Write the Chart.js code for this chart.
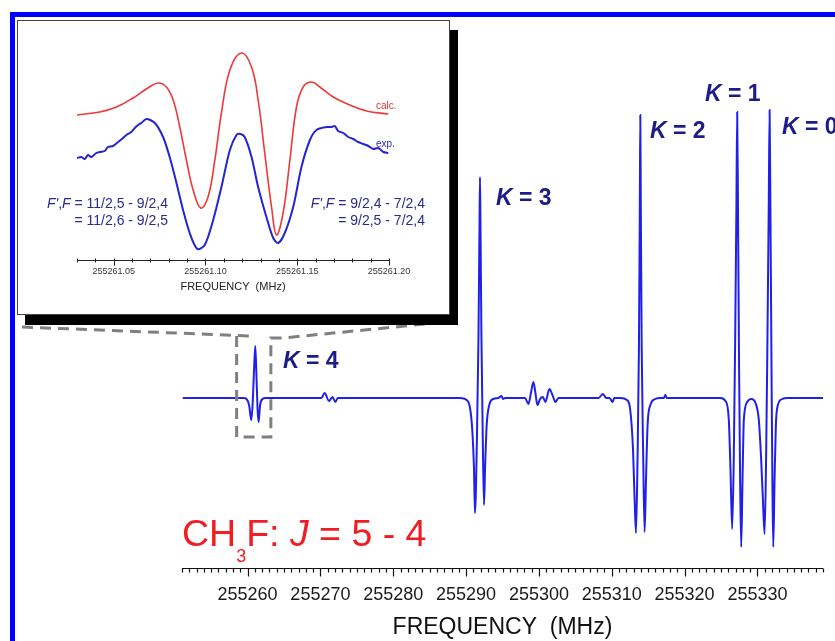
<!DOCTYPE html>
<html>
<head>
<meta charset="utf-8">
<script src="https://cdn.jsdelivr.net/npm/chart.js@4.4.1/dist/chart.umd.min.js"></script>
<style>
  html, body { margin:0; padding:0; background:#fff; }
  body { width:835px; height:641px; overflow:hidden; position:relative; font-family:"Liberation Sans", Arial, Helvetica, sans-serif; }
  #main { position:absolute; left:0; top:0; }
  #inset { position:absolute; left:17px; top:20px; width:431px; height:293px; border:1px solid #444; background:#fff; box-shadow:8px 10px 0 #000; }
  #ins { position:absolute; left:0; top:0; }
  .klab { position:absolute; font-size:23px; line-height:1; font-weight:bold; color:#1c1c88; white-space:nowrap; }
  .klab i { font-style:italic; }
  #title { position:absolute; left:182px; top:515px; font-size:37.5px; line-height:1; color:#f01e23; white-space:nowrap; }
  #title .sub { font-size:18px; position:relative; top:16px; }
  .hf { position:absolute; top:173.5px; font-size:14px; line-height:17px; color:#2a2a90; text-align:right; white-space:nowrap; }
  .small { position:absolute; font-size:10px; line-height:1; white-space:nowrap; }
  #frame { position:absolute; left:10px; top:12px; width:2000px; height:2000px; border:5px solid #0000ff; pointer-events:none; }
</style>
</head>
<body>
<canvas id="main" width="835" height="641"></canvas>
<div id="title">CH<span class="sub">3</span>F: <i>J</i> = 5 - 4</div>
<div class="klab" style="left:283px; top:349px;"><i>K</i> = 4</div>
<div class="klab" style="left:496px; top:186px;"><i>K</i> = 3</div>
<div class="klab" style="left:650px; top:119px;"><i>K</i> = 2</div>
<div class="klab" style="left:705px; top:82px;"><i>K</i> = 1</div>
<div class="klab" style="left:782px; top:115px;"><i>K</i> = 0</div>
<div id="inset">
  <canvas id="ins" width="431" height="293"></canvas>
  <div class="hf" style="left:0; width:150px;"><i>F'</i>,<i>F</i> = 11/2,5 - 9/2,4<br>= 11/2,6 - 9/2,5</div>
  <div class="hf" style="left:0; width:407px;"><i>F'</i>,<i>F</i> = 9/2,4 - 7/2,4<br>= 9/2,5 - 7/2,4</div>
  <div class="small" style="left:358px; top:79.5px; color:#e83030;">calc.</div>
  <div class="small" style="left:358px; top:117.5px; color:#2a2ad0;">exp.</div>
</div>
<div id="frame"></div>
<script>
// ---------- data ----------
const mainTickLabels = ['255260','255270','255280','255290','255300','255310','255320','255330'];
const insetTickLabels = ['255261.05','255261.10','255261.15','255261.20'];

// main spectrum: frequency (MHz) and intensity (arb. units, baseline = 0)
const mainFreq = [
  255251.1, 255259.45, 255259.86, 255260.21, 255260.51, 255260.69, 255260.89, 255261.06, 255261.24, 255261.38, 255261.51, 255261.72, 255262.06, 255262.48,
  255270.14, 255270.59, 255271.18, 255271.65, 255272.06, 255272.38,
  255289.16, 255290.08, 255290.54, 255290.85, 255291.09, 255291.22, 255291.49, 255291.70, 255291.84, 255291.91, 255291.98, 255292.11, 255292.29, 255292.46, 255292.60, 255292.83, 255293.19, 255293.74, 255294.43, 255294.87, 255295.08, 255295.35,
  255298.10, 255298.56, 255298.93, 255299.24, 255299.52, 255299.79, 255300.16, 255300.54, 255300.89, 255301.44, 255301.86, 255302.27, 255302.68,
  255308.18, 255308.79, 255309.24, 255309.70, 255310.11, 255310.34,
  255311.17, 255312.09, 255312.54, 255312.92, 255313.14, 255313.33, 255313.55, 255313.73, 255313.85, 255313.92, 255313.99, 255314.11, 255314.31, 255314.51, 255314.70, 255314.92, 255315.30, 255315.98, 255316.67,
  255317.15, 255317.36, 255317.56,
  255324.92, 255325.61, 255326.07, 255326.30, 255326.53, 255326.75, 255326.93, 255327.11, 255327.22, 255327.33, 255327.48, 255327.62, 255327.77, 255327.95, 255328.13, 255328.60, 255329.15, 255329.74, 255330.19, 255330.50, 255330.74, 255330.98,
  255331.19, 255331.36, 255331.55, 255331.67, 255331.78, 255331.93, 255332.05, 255332.17, 255332.35, 255332.53, 255332.81, 255333.41, 255334.10, 255339.0
];
const mainInt = [
  0, 0, -0.01, -0.07, -0.22, -0.07, 0.28, 0.52, 0.18, -0.12, -0.24, -0.07, -0.01, 0,
  0, 0.05, -0.03, 0.01, -0.04, 0,
  0, -0.02, -0.10, -0.32, -0.72, -1.15, -0.40, 0.60, 1.70, 2.21, 1.70, 0.60, -0.40, -1.07, -0.72, -0.27, -0.07, -0.01, 0, 0.02, -0.01, 0,
  0, -0.06, 0.06, 0.16, 0.05, -0.07, -0.01, 0.01, -0.04, 0.09, 0.03, -0.04, 0,
  0, 0.04, 0, 0, -0.04, 0,
  0, -0.02, -0.12, -0.52, -1.02, -1.35, -0.55, 0.50, 1.90, 2.83, 1.90, 0.50, -0.55, -1.34, -0.82, -0.27, -0.07, -0.01, 0,
  0, 0.03, 0,
  0, -0.03, -0.22, -0.72, -1.31, -0.60, 0.50, 1.90, 2.86, 1.90, 0.30, -0.80, -1.49, -0.82, -0.22, -0.04, -0.01, -0.05, -0.22, -0.60, -1.00, -1.36,
  -0.60, 0.50, 1.90, 2.88, 1.90, 0.30, -0.80, -1.49, -0.82, -0.27, -0.07, -0.01, 0, 0
];

// inset: K = 4 line, calculated and experimental profiles
const calcFreq = [255261.0300, 255261.0424, 255261.0515, 255261.0605, 255261.0678, 255261.0742, 255261.0787, 255261.0824, 255261.0860, 255261.0896, 255261.0933, 255261.0974, 255261.1014, 255261.1051, 255261.1087, 255261.1133, 255261.1196, 255261.1251, 255261.1287, 255261.1323, 255261.1360, 255261.1387, 255261.1423, 255261.1460, 255261.1496, 255261.1532, 255261.1578, 255261.1623, 255261.1696, 255261.1787, 255261.1878, 255261.1996];
const calcInt = [1.45, 1.48, 1.53, 1.62, 1.71, 1.77, 1.73, 1.60, 1.33, 1.00, 0.70, 0.52, 0.63, 1.00, 1.47, 1.90, 2.07, 1.93, 1.60, 1.07, 0.53, 0.25, 0.47, 1.00, 1.53, 1.73, 1.78, 1.73, 1.63, 1.55, 1.49, 1.46];
const expFreq = [255261.0300, 255261.0324, 255261.0342, 255261.0360, 255261.0378, 255261.0405, 255261.0424, 255261.0451, 255261.0469, 255261.0496, 255261.0524, 255261.0551, 255261.0569, 255261.0596, 255261.0615, 255261.0633, 255261.0651, 255261.0678,
  255261.0724, 255261.0769, 255261.0805, 255261.0842, 255261.0878, 255261.0914, 255261.0956, 255261.0996, 255261.1042, 255261.1087, 255261.1133, 255261.1169, 255261.1191, 255261.1214, 255261.1251, 255261.1287, 255261.1332, 255261.1369, 255261.1396, 255261.1432, 255261.1478, 255261.1523, 255261.1569, 255261.1605, 255261.1660,
  255261.1687, 255261.1705, 255261.1723, 255261.1751, 255261.1778, 255261.1805, 255261.1832, 255261.1860, 255261.1887, 255261.1914, 255261.1941, 255261.1969, 255261.1996];
const expInt = [1.02, 1.03, 1.01, 1.05, 1.03, 1.07, 1.08, 1.09, 1.13, 1.14, 1.18, 1.22, 1.25, 1.28, 1.32, 1.35, 1.37, 1.41,
  1.37, 1.23, 1.03, 0.77, 0.50, 0.27, 0.11, 0.15, 0.40, 0.73, 1.10, 1.25, 1.26, 1.23, 1.03, 0.73, 0.43, 0.22, 0.17, 0.27, 0.53, 0.93, 1.20, 1.30, 1.33,
  1.33, 1.34, 1.29, 1.27, 1.23, 1.21, 1.18, 1.16, 1.14, 1.11, 1.12, 1.08, 1.07];

// ---------- helpers ----------
const FAMILY = '"Liberation Sans", Arial, Helvetica, sans-serif';
const pts = (xs, ys) => xs.map((x, i) => ({x: x, y: ys[i]}));
const mainMajor = mainTickLabels.map(Number);
const insetMajor = insetTickLabels.map(Number);
const isMajorOf = (list) => (v) => list.some(m => Math.abs(m - v) < 1e-6);

function tickPlugin(id, isMajor, cfg) {
  return {
    id: id,
    afterDraw(chart) {
      const s = chart.scales.x, ctx = chart.ctx, y0 = Math.round(chart.chartArea.bottom) + 0.5;
      ctx.save();
      ctx.strokeStyle = cfg.color; ctx.lineWidth = cfg.width;
      ctx.beginPath();
      ctx.moveTo(s.left, y0); ctx.lineTo(s.right, y0);
      s.ticks.forEach(t => {
        const x = Math.round(s.getPixelForValue(t.value)) + 0.5;
        const maj = isMajor(t.value);
        ctx.moveTo(x, y0 - (maj ? cfg.majUp : cfg.minUp));
        ctx.lineTo(x, y0 + (maj ? cfg.majDown : cfg.minDown));
      });
      ctx.stroke();
      ctx.restore();
    }
  };
}

// dashed zoom box around the K = 4 line, with lines up to the inset
const zoomBox = { xMin: 255258.5, xMax: 255263.2, yMin: -0.39, yMax: 0.60 };
const zoomPlugin = {
  id: 'zoomBox',
  afterDatasetsDraw(chart) {
    const ctx = chart.ctx, sx = chart.scales.x, sy = chart.scales.y;
    const l = sx.getPixelForValue(zoomBox.xMin), r = sx.getPixelForValue(zoomBox.xMax);
    const t = sy.getPixelForValue(zoomBox.yMax), b = sy.getPixelForValue(zoomBox.yMin);
    const inset = document.getElementById('inset');
    const il = inset.offsetLeft + 5, ir = inset.offsetLeft + inset.offsetWidth + 6, ib = inset.offsetTop + inset.offsetHeight + 12;
    ctx.save();
    ctx.strokeStyle = '#808080'; ctx.lineWidth = 3; ctx.setLineDash([11, 7]);
    ctx.beginPath();
    ctx.moveTo(il, ib); ctx.lineTo(l + 15, t - 2);
    ctx.stroke();
    ctx.beginPath();
    ctx.moveTo(l, t - 2); ctx.lineTo(l, b); ctx.lineTo(r, b); ctx.lineTo(r, t); ctx.lineTo(r + 12, t);
    ctx.lineTo(ir, ib - 6);
    ctx.stroke();
    ctx.restore();
  }
};

// ---------- main chart ----------
new Chart(document.getElementById('main'), {
  type: 'line',
  data: { datasets: [{
    data: pts(mainFreq, mainInt),
    borderColor: '#2020e8', borderWidth: 2, pointRadius: 0, fill: false,
    cubicInterpolationMode: 'monotone'
  }]},
  options: {
    responsive: false, animation: false, events: [],
    layout: { padding: { left: 182, right: 12, top: 58, bottom: 0 } },
    plugins: { legend: { display: false }, tooltip: { enabled: false } },
    scales: {
      x: {
        type: 'linear', min: 255251, max: 255339,
        afterBuildTicks: s => { const a = []; for (let v = 255251; v <= 255339; v++) a.push({value: v}); s.ticks = a; },
        afterFit: s => { s.height = 73; s.paddingLeft = 0; s.paddingRight = 0; },
        grid: { display: false, drawTicks: false }, border: { display: false },
        ticks: { autoSkip: false, maxRotation: 0, minRotation: 0, padding: 16, color: '#1a1a1a',
          font: { size: 18, family: FAMILY },
          callback: v => { const i = mainMajor.indexOf(v); return i >= 0 ? mainTickLabels[i] : ''; } },
        title: { display: true, text: 'FREQUENCY  (MHz)', color: '#111', font: { size: 23, family: FAMILY }, padding: { top: 0, bottom: 0 } }
      },
      y: { display: false, min: -1.70, max: 3.40 }
    }
  },
  plugins: [zoomPlugin, tickPlugin('mainTicks', isMajorOf(mainMajor), {color:'#111', width:1.2, minUp:0, minDown:4, majUp:0, majDown:8})]
});

// ---------- inset chart ----------
new Chart(document.getElementById('ins'), {
  type: 'line',
  data: { datasets: [
    { data: pts(calcFreq, calcInt), borderColor: '#f03838', borderWidth: 1.6, pointRadius: 0, fill: false, tension: 0.4 },
    { data: pts(expFreq, expInt), borderColor: '#2424d4', borderWidth: 2, pointRadius: 0, fill: false, tension: 0.3 }
  ]},
  options: {
    responsive: false, animation: false, events: [],
    layout: { padding: { left: 59, right: 60, top: 9, bottom: 0 } },
    plugins: { legend: { display: false }, tooltip: { enabled: false } },
    scales: {
      x: {
        type: 'linear', min: 255261.03, max: 255261.20,
        afterBuildTicks: s => { const a = []; for (let i = 0; i <= 17; i++) a.push({value: Number((255261.03 + i * 0.01).toFixed(2))}); s.ticks = a; },
        afterFit: s => { s.height = 54; },
        grid: { display: false, drawTicks: false }, border: { display: false },
        ticks: { autoSkip: false, maxRotation: 0, minRotation: 0, padding: 6, color: '#333',
          font: { size: 9, family: FAMILY },
          callback: v => { const i = insetMajor.findIndex(m => Math.abs(m - v) < 1e-6); return i >= 0 ? insetTickLabels[i] : ''; } },
        title: { display: true, text: 'FREQUENCY  (MHz)', color: '#222', font: { size: 11, family: FAMILY }, padding: { top: 0, bottom: 20 } }
      },
      y: { display: false, min: 0, max: 2.30 }
    }
  },
  plugins: [tickPlugin('insTicks', isMajorOf(insetMajor), {color:'#222', width:1, minUp:2, minDown:2, majUp:2, majDown:5})]
});
</script>
</body>
</html>
